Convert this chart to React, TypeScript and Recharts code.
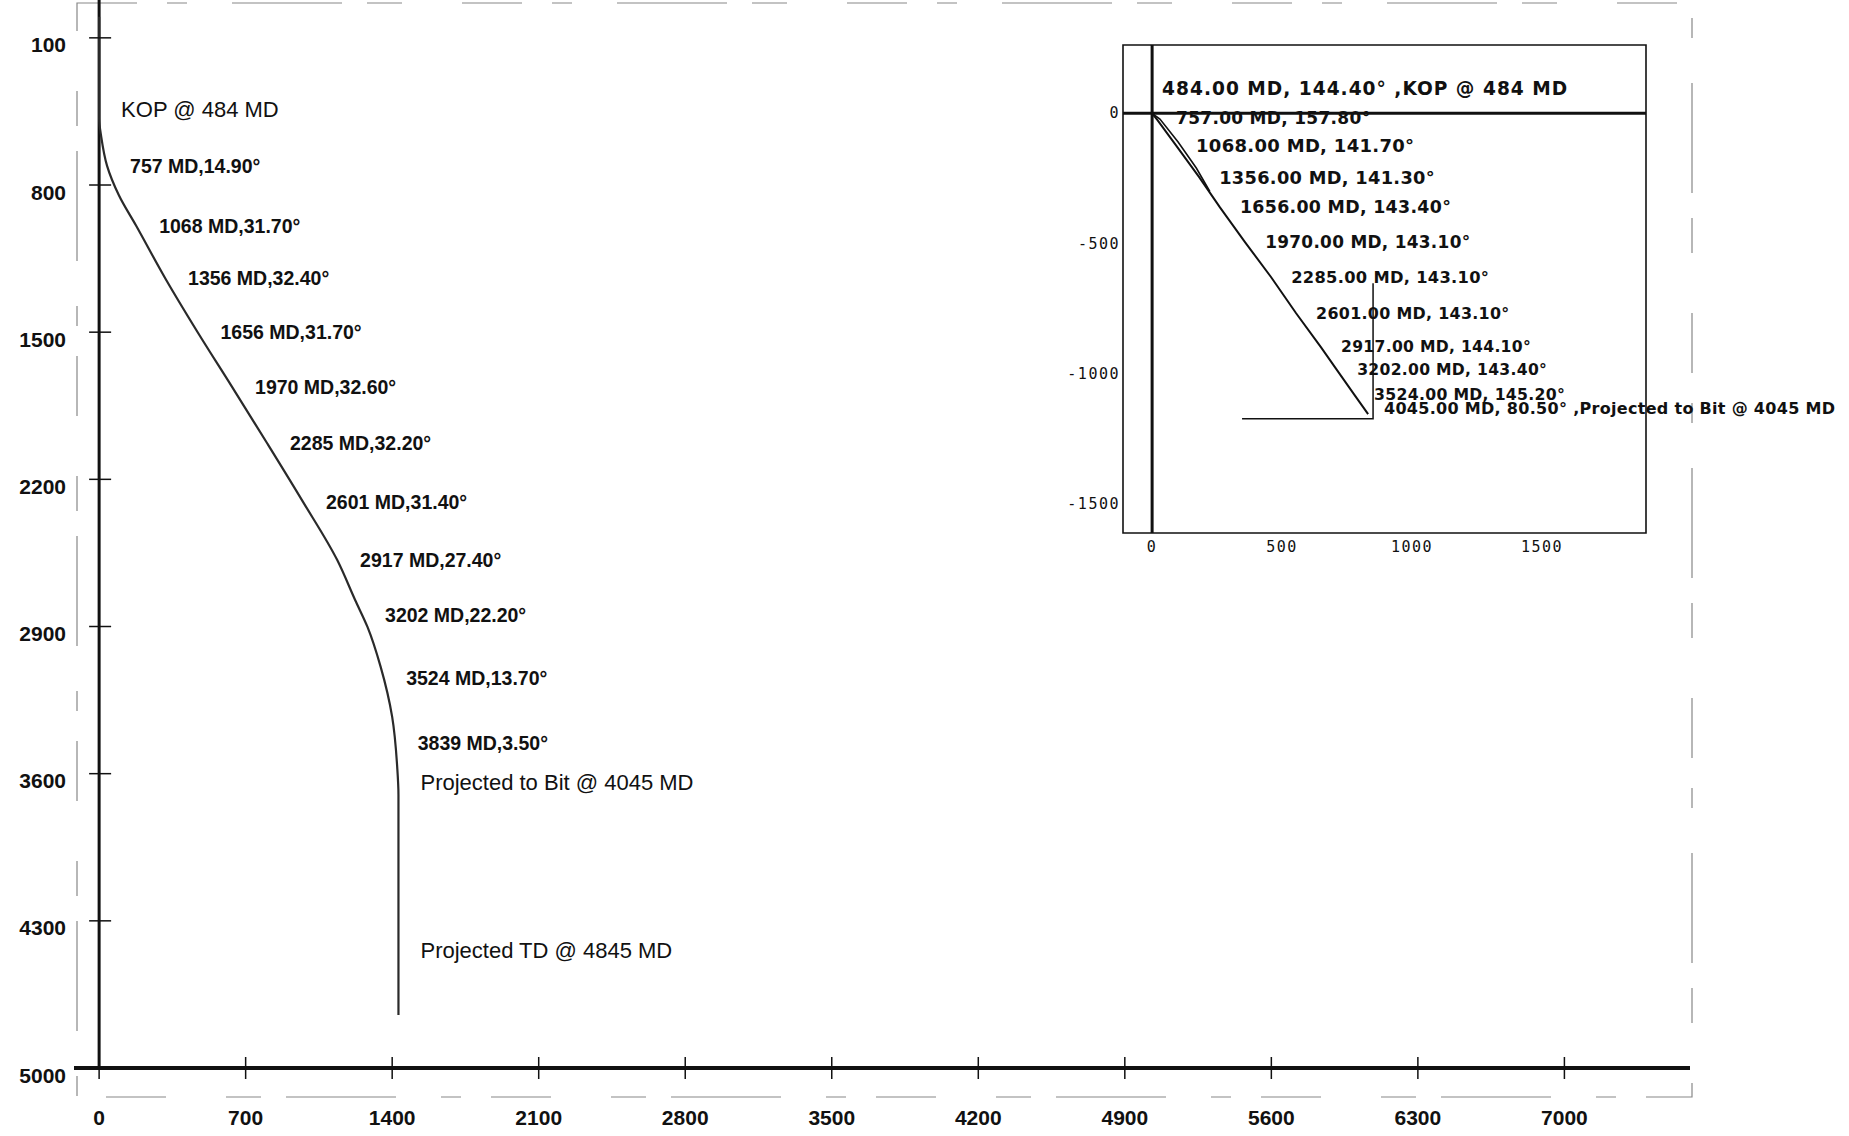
import { ComposedChart, Line, Scatter, XAxis, YAxis, ReferenceLine, ReferenceArea } from 'recharts'

// ---- vertical section (VS vs TVD) ----
const sectionVs = [0, 0, 10, 38, 95, 177, 315, 470, 635, 802, 974, 1137, 1223, 1282, 1345, 1400, 1424, 1430, 1430]
const sectionTvd = [0, 484, 570, 709, 850, 994, 1242, 1499, 1760, 2027, 2307, 2583, 2774, 2902, 3092, 3330, 3568, 3700, 4748]

const stationMd = [757, 1068, 1356, 1656, 1970, 2285, 2601, 2917, 3202, 3524, 3839]
const stationInc = [14.9, 31.7, 32.4, 31.7, 32.6, 32.2, 31.4, 27.4, 22.2, 13.7, 3.5]
const stationVs = [38, 177, 315, 470, 635, 802, 974, 1137, 1256, 1357, 1412]
const stationTvd = [709, 994, 1242, 1499, 1760, 2027, 2307, 2583, 2845, 3145, 3454]

const eventText = ['KOP @ 484 MD', 'Projected to Bit @ 4045 MD', 'Projected TD @ 4845 MD']
const eventVs = [0, 1430, 1430]
const eventTvd = [443, 3644, 4443]

const tvdTicks = [100, 800, 1500, 2200, 2900, 3600, 4300, 5000]
const vsTicks = [0, 700, 1400, 2100, 2800, 3500, 4200, 4900, 5600, 6300, 7000]

// ---- plan view inset (E vs N) ----
const planE = [0, 20, 92, 181, 261, 358, 458, 554, 650, 712, 777, 831]
const planN = [0, -25, -123, -245, -361, -495, -629, -767, -898, -986, -1078, -1154]
const plan2E = [0, 30, 100, 170, 222]
const plan2N = [0, -22, -110, -210, -300]
const targetE = [346, 850, 850]
const targetN = [-1172, -1172, -652]

const planMd = [484, 757, 1068, 1356, 1656, 1970, 2285, 2601, 2917, 3202, 3524, 4045]
const planAzi = [144.4, 157.8, 141.7, 141.3, 143.4, 143.1, 143.1, 143.1, 144.1, 143.4, 145.2, 80.5]
const planTagE = [0, 15, 92, 181, 261, 358, 458, 554, 650, 712, 777, 815]
const planTagN = [0, -19, -123, -245, -361, -495, -629, -767, -898, -986, -1078, -1132]
const planSuffix = ['KOP @ 484 MD', '', '', '', '', '', '', '', '', '', '', 'Projected to Bit @ 4045 MD']

const eTicks = [0, 500, 1000, 1500]
const nTicks = [0, -500, -1000, -1500]

const section = sectionVs.map((vs, i) => ({ vs, tvd: sectionTvd[i] }))
const stationTags = stationMd.map((md, i) => ({
  vs: stationVs[i], tvd: stationTvd[i], text: `${md} MD,${stationInc[i].toFixed(2)}°`,
}))
const eventTags = eventText.map((text, i) => ({ vs: eventVs[i], tvd: eventTvd[i], text }))

const plan = planE.map((e, i) => ({ e, n: planN[i] }))
const plan2 = plan2E.map((e, i) => ({ e, n: plan2N[i] }))
const target = targetE.map((e, i) => ({ e, n: targetN[i] }))
const planTags = planMd.map((md, i) => ({
  e: planTagE[i], n: planTagN[i], idx: i,
  text: `${md.toFixed(2)} MD, ${planAzi[i].toFixed(2)}°` + (planSuffix[i] ? ` ,${planSuffix[i]}` : ''),
}))

const W = 1849
const H = 1136
const X_MIN = -120, X_MAX = 7600, Y_MIN = -80, Y_MAX = 5000
const M = { top: 0, right: 159, bottom: 0, left: 0 }
const Y_W = 74
const X_H = 68
const plotW = W - M.left - M.right - Y_W
const zeroX = ((0 - X_MIN) / (X_MAX - X_MIN)) * plotW

const ARIAL = "'Liberation Sans', Arial, sans-serif"
const DEJAVU = "'DejaVu Sans', Verdana, sans-serif"
const MONO = "'DejaVu Sans Mono', monospace"
const INK = '#111'
// the scan shrinks the inset tags a little from top to bottom
const PLAN_TAG_SIZE = [18.6, 17, 18, 17.8, 17.4, 16.9, 16.3, 15.9, 15.6, 15.6, 15.7, 16]

const YTick = (p: any) => {
  const ax = p.x + 8 + zeroX
  return (
    <g>
      <line x1={ax - 10} x2={ax + 12} y1={p.y} y2={p.y} stroke={INK} strokeWidth={1.5} />
      <text x={p.x} y={p.y + 7} textAnchor="end" dominantBaseline="central" fontFamily={ARIAL} fontWeight="bold" fontSize={21} fill={INK}>
        {p.payload.value}
      </text>
    </g>
  )
}

const XTick = (p: any) => (
  <g>
    <line x1={p.x} x2={p.x} y1={p.y - 11} y2={p.y + 11} stroke={INK} strokeWidth={1.5} />
    <text x={p.x} y={p.y + 49} textAnchor="middle" dominantBaseline="central" fontFamily={ARIAL} fontWeight="bold" fontSize={21} fill={INK}>
      {p.payload.value}
    </text>
  </g>
)

const StationTag = (p: any) => (
  <text x={p.cx + 23} y={p.cy} dominantBaseline="central" fontFamily={ARIAL} fontWeight="bold" fontSize={19.5} fill={INK}>
    {p.payload.text}
  </text>
)

const EventTag = (p: any) => (
  <text x={p.cx + 22} y={p.cy} dominantBaseline="central" fontFamily={ARIAL} fontSize={22} fill={INK}>
    {p.payload.text}
  </text>
)

const PlanTag = (p: any) => {
  const i = p.payload.idx
  const first = i === 0
  return (
    <text
      x={p.cx + (first ? 10 : 20)}
      y={p.cy + (first ? -25 : 0)}
      dominantBaseline="central"
      fontFamily={DEJAVU}
      fontWeight="bold"
      fontSize={PLAN_TAG_SIZE[i]}
      letterSpacing={first ? 1 : 0.3}
      fill={INK}
    >
      {p.payload.text}
    </text>
  )
}

const PlanYTick = (p: any) => (
  <text x={p.x} y={p.y} textAnchor="end" dominantBaseline="central" fontFamily={MONO} fontSize={15} letterSpacing={1.5} fill={INK}>
    {p.payload.value}
  </text>
)

const PlanXTick = (p: any) => (
  <text x={p.x} y={p.y + 14} textAnchor="middle" dominantBaseline="central" fontFamily={MONO} fontSize={15} letterSpacing={1.5} fill={INK}>
    {p.payload.value}
  </text>
)

export default function App() {
  return (
    <div style={{ position: 'absolute', left: 0, top: 0, width: W, height: H, background: '#fff' }}>
      {/* faint scanned frame */}
      <svg width={W} height={H} style={{ position: 'absolute', left: 0, top: 0 }}>
        <rect x={77} y={3} width={1615} height={1094} fill="none" stroke="#888" strokeWidth={1.2} strokeDasharray="60 30 20 45 110 25 35 60" />
      </svg>

      {/* vertical section */}
      <div style={{ position: 'absolute', left: 0, top: 0 }}>
        <ComposedChart width={W} height={H} layout="vertical" margin={M}>
          <XAxis
            type="number"
            dataKey="vs"
            domain={[X_MIN, X_MAX]}
            ticks={vsTicks}
            height={X_H}
            tickSize={0}
            tickMargin={0}
            axisLine={{ stroke: INK, strokeWidth: 4 }}
            tickLine={false}
            tick={<XTick />}
            interval={0}
          />
          <YAxis
            type="number"
            dataKey="tvd"
            domain={[Y_MIN, Y_MAX]}
            ticks={tvdTicks}
            width={Y_W}
            tickSize={0}
            tickMargin={8}
            axisLine={false}
            tickLine={false}
            tick={<YTick />}
            interval={0}
          />
          <ReferenceLine x={0} stroke={INK} strokeWidth={3} />
          <Line data={section} dataKey="vs" type="monotone" stroke="#2a2a2a" strokeWidth={2.2} dot={false} isAnimationActive={false} />
          <Scatter data={stationTags} shape={<StationTag />} isAnimationActive={false} />
          <Scatter data={eventTags} shape={<EventTag />} isAnimationActive={false} />
        </ComposedChart>
      </div>

      {/* plan view inset */}
      <div style={{ position: 'absolute', left: 1060, top: 20 }}>
        <ComposedChart width={789} height={540} margin={{ top: 25, right: 203, bottom: 2, left: 3 }}>
          <XAxis
            type="number"
            dataKey="e"
            domain={[-112, 1900]}
            ticks={eTicks}
            height={25}
            tickSize={0}
            tickMargin={0}
            axisLine={false}
            tickLine={false}
            tick={<PlanXTick />}
            interval={0}
          />
          <YAxis
            type="number"
            dataKey="n"
            domain={[-1610, 262]}
            ticks={nTicks}
            width={60}
            tickSize={0}
            tickMargin={3}
            axisLine={false}
            tickLine={false}
            tick={<PlanYTick />}
            interval={0}
          />
          <ReferenceArea x1={-112} x2={1900} y1={-1610} y2={262} fill="#fff" fillOpacity={0} stroke={INK} strokeWidth={1.6} />
          <ReferenceLine x={0} stroke={INK} strokeWidth={3} />
          <ReferenceLine y={0} stroke={INK} strokeWidth={3} />
          <Line data={target} dataKey="n" type="linear" stroke={INK} strokeWidth={1.5} dot={false} isAnimationActive={false} />
          <Line data={plan2} dataKey="n" type="linear" stroke={INK} strokeWidth={1.6} dot={false} isAnimationActive={false} />
          <Line data={plan} dataKey="n" type="linear" stroke={INK} strokeWidth={2} dot={false} isAnimationActive={false} />
          <Scatter data={planTags} shape={<PlanTag />} isAnimationActive={false} />
        </ComposedChart>
      </div>
    </div>
  )
}
